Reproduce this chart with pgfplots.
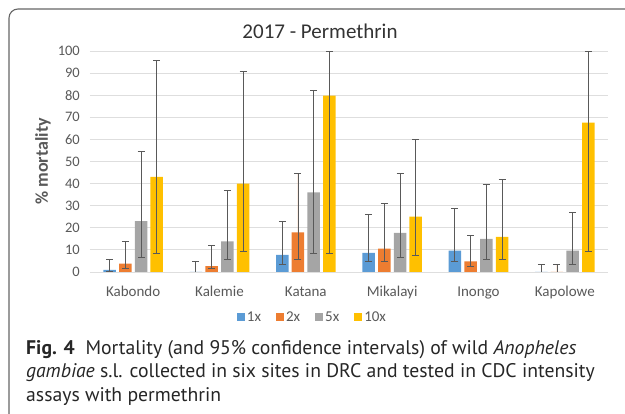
\documentclass[border=0pt]{standalone}
\usepackage{pgfplots}
\pgfplotsset{compat=1.18}
\usepackage{pgfplotstable}
\usepackage{fontspec}
\setmainfont{Carlito}
\newfontfamily\capfont{PT Sans}
\definecolor{c1}{HTML}{5B9BD5}
\definecolor{c2}{HTML}{ED7D31}
\definecolor{c5}{HTML}{A5A5A5}
\definecolor{c10}{HTML}{FFC000}
\definecolor{txt}{HTML}{595959}

\pgfplotstableread{
x y1 p1 m1 y2 p2 m2 y5 p5 m5 y10 p10 m10
0 1.0 4.8 0.8 3.8 10.1 2.0 23.0 31.6 16.4 43.0 52.8 34.5
1 0.0 4.7 0.0 2.7 9.1 0.9 13.9 22.9 8.3 40.0 50.6 30.5
2 7.7 15.3 4.1 17.9 26.8 12.1 36.0 46.0 27.5 79.8 20.2 71.3
3 8.6 17.3 3.9 10.6 20.2 5.9 17.7 27.0 11.0 25.0 34.9 17.4
4 9.7 19.1 5.0 4.8 11.9 2.1 15.0 24.7 9.2 15.9 25.8 10.1
5 0.0 3.6 0.0 0.0 3.6 0.0 9.7 17.1 6.1 67.6 32.4 58.1
}\data

\begin{document}
\begin{tikzpicture}[x=1pt,y=1pt]
\useasboundingbox (0,0) rectangle (625,414);
\draw[color=black!60, line width=1.1pt, rounded corners=9pt] (9,-30) -- (9,405) -- (660,405);
\node[anchor=base, font=\fontsize{21}{21}\selectfont, text=black!80] at (320,375) {2017 - Permethrin};
\begin{axis}[
  at={(90pt,142pt)}, anchor=south west, scale only axis,
  width=518pt, height=221pt,
  xmin=-0.5, xmax=5.5, ymin=0, ymax=100,
  ybar=3.2pt, bar width=12.5pt,
  xtick={0,...,5},
  xticklabels={Kabondo,Kalemie,Katana,Mikalayi,Inongo,Kapolowe},
  ytick={0,10,...,100},
  ymajorgrids, grid style={draw=black!13, line width=0.8pt},
  axis line style={draw=none}, major tick length=0pt,
  tick label style={font=\fontsize{14.5}{14.5}\selectfont, text=txt},
  xticklabel style={font=\fontsize{15}{15}\selectfont},
  /pgf/number format/assume math mode=true,
  yticklabel style={anchor=east, inner sep=0pt, xshift=-10pt},
  xticklabel style={anchor=base, inner sep=0pt, yshift=-25pt},
  ylabel={\% mortality},
  ylabel style={font=\bfseries\fontsize{18}{18}\selectfont, text=txt, at={(axis description cs:-0.0907,0.5)}, anchor=center},
  error bars/y dir=both, error bars/y explicit,
  error bars/error bar style={draw=black!65, line width=0.9pt},
  error bars/error mark options={rotate=90, mark size=3.5pt, draw=black!65, line width=0.9pt},
  legend image code/.code={\fill[#1] (0pt,-4pt) rectangle (8pt,4pt);},
  legend style={at={(axis description cs:0.4295,-0.2036)}, anchor=center, draw=none, fill=none,
    legend columns=4, font=\fontsize{15}{15}\selectfont, text=txt,
    /tikz/every even column/.append style={column sep=13pt}},
]
\addplot[fill=c1, draw=none] table[x=x, y=y1, y error plus=p1, y error minus=m1] {\data};
\addplot[fill=c2, draw=none] table[x=x, y=y2, y error plus=p2, y error minus=m2] {\data};
\addplot[fill=c5, draw=none] table[x=x, y=y5, y error plus=p5, y error minus=m5] {\data};
\addplot[fill=c10, draw=none] table[x=x, y=y10, y error plus=p10, y error minus=m10] {\data};
\legend{1x,2x,5x,10x}
\end{axis}
\begin{scope}[font=\capfont\fontsize{19.7}{23}\selectfont, text=black!85]
\node[anchor=base west, inner sep=0pt] at (26,59) {\textbf{Fig. 4}\hspace{0.55em}Mortality (and 95\% confidence intervals) of wild \textit{Anopheles}};
\node[anchor=base west, inner sep=0pt] at (26,36) {\textit{gambiae} s.l. collected in six sites in DRC and tested in CDC intensity};
\node[anchor=base west, inner sep=0pt] at (26,12) {assays with permethrin};
\end{scope}
\end{tikzpicture}
\end{document}
